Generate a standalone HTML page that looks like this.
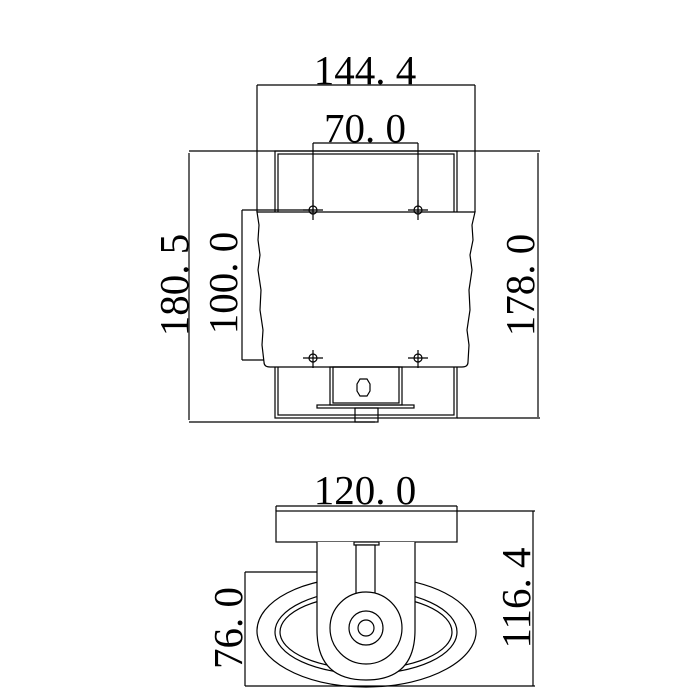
<!DOCTYPE html>
<html><head><style>
html,body{margin:0;padding:0;background:#fff;}
svg{display:block}
text{font-family:"Liberation Serif",serif;font-size:41px;fill:#000;}
</style></head><body>
<svg width="700" height="700" viewBox="0 0 700 700" xmlns="http://www.w3.org/2000/svg">
<g fill="none" stroke="#000" stroke-width="1.2">
<line x1="257" y1="85" x2="475" y2="85"/>
<line x1="257" y1="85" x2="257" y2="212"/>
<line x1="475" y1="85" x2="475" y2="212"/>
<line x1="313" y1="143" x2="418" y2="143"/>
<line x1="313" y1="143" x2="313" y2="218"/>
<line x1="418" y1="143" x2="418" y2="218"/>
<line x1="189" y1="151" x2="540" y2="151"/>
<line x1="189" y1="422" x2="375" y2="422"/>
<line x1="189" y1="153" x2="189" y2="420"/>
<line x1="538" y1="153" x2="538" y2="417"/>
<line x1="457" y1="418" x2="540" y2="418"/>
<line x1="242" y1="210" x2="242" y2="360"/>
<line x1="242" y1="210" x2="313" y2="210"/>
<line x1="242" y1="360" x2="313" y2="360"/>
<rect x="275" y="151" width="182" height="267"/>
<rect x="278" y="154" width="176" height="261"/>
<path d="M257 212 L475 212 L472 225 L473 240 L470 255 L472 270 L469 290 L470 310 L467 330 L469 345 L468 362 Q468 367 462 367 L270 367 Q264 367 264 362 L262 345 L263 330 L260 310 L261 290 L258 270 L260 255 L258 240 L259 225 Z" fill="#fff"/>
<g>
<circle cx="313" cy="210" r="4"/><line x1="303" y1="210" x2="323" y2="210"/><line x1="313" y1="200" x2="313" y2="220"/>
<circle cx="418" cy="210" r="4"/><line x1="408" y1="210" x2="428" y2="210"/><line x1="418" y1="200" x2="418" y2="220"/>
<circle cx="313" cy="358" r="4"/><line x1="303" y1="358" x2="323" y2="358"/><line x1="313" y1="350" x2="313" y2="368"/>
<circle cx="418" cy="358" r="4"/><line x1="408" y1="358" x2="428" y2="358"/><line x1="418" y1="350" x2="418" y2="368"/>
</g>
<rect x="330" y="367" width="72" height="38"/>
<rect x="333" y="367" width="66" height="36"/>
<path d="M360 379 L367 379 L370 384 L370 391 L367 396 L360 396 L357 391 L357 384 Z"/>
<rect x="317" y="405" width="97" height="3"/>
<rect x="355" y="408" width="23" height="14"/>

<line x1="276" y1="506" x2="457" y2="506"/>
<line x1="276" y1="506" x2="276" y2="511"/>
<line x1="457" y1="506" x2="457" y2="511"/>
<rect x="276" y="511" width="181" height="31"/>
<line x1="457" y1="511" x2="535" y2="511"/>
<line x1="533" y1="511" x2="533" y2="686"/>
<line x1="245" y1="686" x2="535" y2="686"/>
<line x1="245" y1="572" x2="245" y2="686"/>
<line x1="245" y1="572" x2="367" y2="572"/>
<path d="M366 577 C432 577 474 602 476 630 C478 658 432 687 366 687 C300 687 256 658 257 630 C258 602 300 577 366 577 Z"/>
<ellipse cx="366" cy="632" rx="91" ry="42"/>
<ellipse cx="366" cy="632" rx="86" ry="37"/>
<path d="M317 542 L317 630 Q317 680 366 680 Q415 680 415 630 L415 542" fill="#fff"/>
<rect x="354" y="542" width="25" height="3"/>
<rect x="356" y="545" width="19" height="52" fill="#fff"/>
<circle cx="366" cy="628" r="36" fill="#fff"/>
<circle cx="366" cy="628" r="17"/>
<circle cx="366" cy="628" r="8"/>
</g>
<text x="365" y="84" text-anchor="middle">144. 4</text>
<text x="365" y="142" text-anchor="middle">70. 0</text>
<text x="365" y="504" text-anchor="middle">120. 0</text>
<text transform="translate(188,285) rotate(-90)" text-anchor="middle">180. 5</text>
<text transform="translate(237,283) rotate(-90)" text-anchor="middle">100. 0</text>
<text transform="translate(534,285) rotate(-90)" text-anchor="middle">178. 0</text>
<text transform="translate(242,628) rotate(-90)" text-anchor="middle">76. 0</text>
<text transform="translate(530,598) rotate(-90)" text-anchor="middle">116. 4</text>
</svg>
</body></html>
